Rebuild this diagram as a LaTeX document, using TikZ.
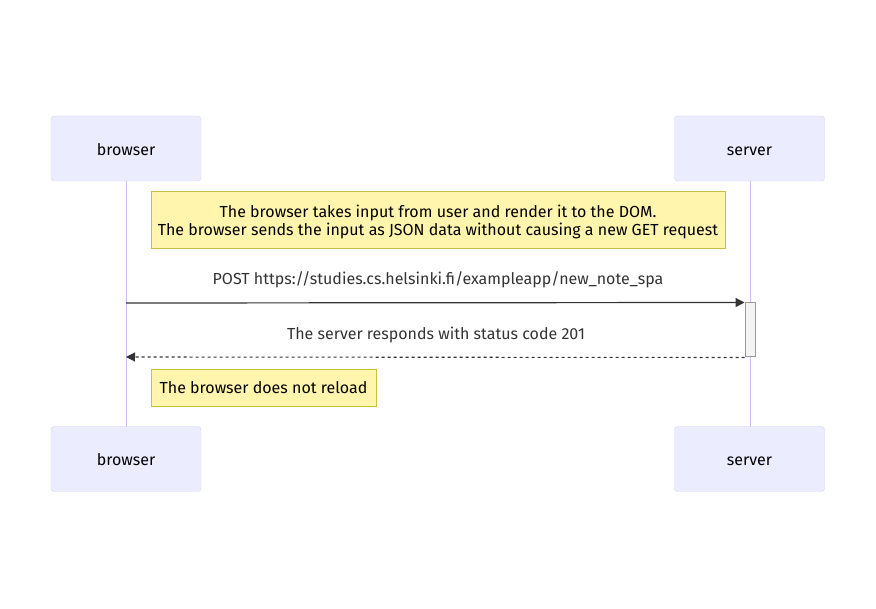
\documentclass[tikz,border=0pt]{standalone}
\usepackage{fontspec}
\setmainfont{Fira Sans}
\usetikzlibrary{arrows.meta}
\definecolor{actfill}{HTML}{ECECFF}
\definecolor{actline}{HTML}{D9CFF5}
\definecolor{lifeline}{HTML}{CDBDF2}
\definecolor{notefill}{HTML}{FFF5AD}
\definecolor{noteline}{HTML}{C8C040}
\definecolor{txt}{HTML}{333333}
\definecolor{actbox}{HTML}{F4F4F4}
\definecolor{actboxline}{HTML}{999999}
\tikzset{
  actor/.style={draw=actline, fill=actfill, rounded corners=3pt, minimum width=150pt, minimum height=65pt, inner sep=0pt, font=\fontsize{16}{18}\selectfont, text=black, text height=15pt, text depth=1pt},
  note/.style={draw=noteline, fill=notefill, inner sep=0pt},
  notetext/.style={font=\fontsize{16}{18}\selectfont, text=black, align=center, inner sep=0pt},
  msg/.style={font=\fontsize{16}{18}\selectfont, text=txt, text height=10pt, text depth=3pt},
  life/.style={draw=lifeline, line width=1pt},
  arr/.style={draw=txt, line width=1.2pt, -{Triangle[length=9pt,width=9pt]}},
}
\begin{document}
\begin{tikzpicture}[x=1pt,y=-1pt]
\useasboundingbox (0,0) rectangle (876,609);
\coordinate (bt) at (126,181);
\coordinate (bb) at (126,427);
\coordinate (st) at (750,181);
\coordinate (sb) at (750,427);
\draw[life] (bt) -- (bb);
\draw[life] (st) -- (sb);
\node[actor] (b1) at (126,148.5) {browser};
\node[actor] (s1) at (749.5,148.5) {server};
\node[actor] (b2) at (126,459) {browser};
\node[actor] (s2) at (749.5,459) {server};
\node[note, minimum width=574pt, minimum height=57pt] (n1) at (438,219.5) {};
\node[notetext] (t1) at (438,222) {The browser takes input from user and render it to the DOM.\\The browser sends the input as JSON data without causing a new GET request};
\node[draw=actboxline, fill=actbox, line width=1pt, minimum width=10pt, minimum height=54pt, inner sep=0pt] (act) at (750,330) {};
\coordinate (m1s) at (126,303);
\node[msg] (l1) at (438,281) {POST https://studies.cs.helsinki.fi/exampleapp/new\_note\_spa};
\draw[arr] (m1s) -- (act.north west);
\coordinate (m2e) at (126,357);
\node[msg] (l2) at (436,336) {The server responds with status code 201};
\draw[arr, line width=1.1pt, dash pattern=on 3pt off 3pt] (act.south west) -- (m2e);
\node[note, minimum width=225pt, minimum height=37pt] (n2) at (263.5,387.5) {};
\node[notetext] (t2) at (263.5,388) {The browser does not reload};
\end{tikzpicture}
\end{document}
